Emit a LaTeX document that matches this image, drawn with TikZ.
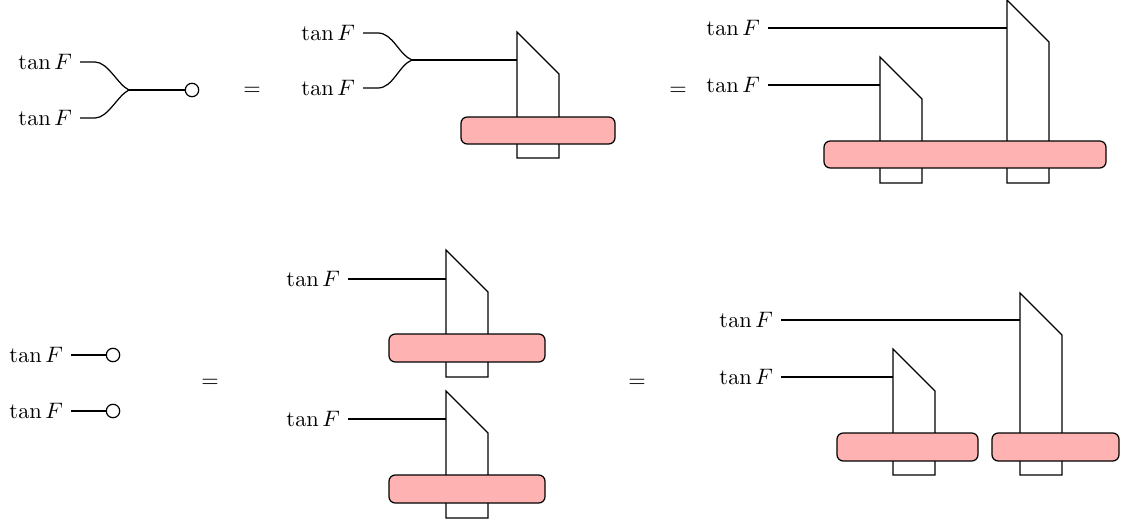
\documentclass[tikz,border=0pt]{standalone}
\begin{document}
\begin{tikzpicture}[x=0.447pt,y=-0.447pt, line width=0.55pt,
  lab/.style={anchor=east},
  cnt/.style={circle,draw,fill=white,inner sep=0pt,minimum size=6pt},
  gate/.style={draw,line join=miter},
  pinkbar/.style={draw,fill=red!30,rounded corners=2.8pt}]
\useasboundingbox (0,0) rectangle (1124,521);

% ---- top left
\node[lab] (a1) at (80,62) {$\tan F$};
\node[lab] (a2) at (80,118) {$\tan F$};
\coordinate (aj) at (129,90);
\node[cnt] (ac) at (192,90) {};
\draw (a1.east) -- ++(15,0) .. controls +(13,0) and +(-11,-5) .. (aj);
\draw (a2.east) -- ++(15,0) .. controls +(13,0) and +(-11,5) .. (aj);
\draw (aj) -- (ac);
\node (eq1) at (252,91) {$=$};

% ---- top middle
\node[lab] (b1) at (363,33) {$\tan F$};
\node[lab] (b2) at (363,88) {$\tan F$};
\coordinate (bj) at (412,60);
\coordinate (bg) at (517,60);
\draw[gate] (517,32) -- (559,74) -- (559,158) -- (517,158) -- cycle;
\draw[pinkbar] (461,117) rectangle (615,144);
\draw (b1.east) -- ++(15,0) .. controls +(15,0) and +(-13,-5) .. (bj);
\draw (b2.east) -- ++(15,0) .. controls +(15,0) and +(-13,5) .. (bj);
\draw (bj) -- (bg);
\node (eq2) at (678,91) {$=$};

% ---- top right
\node[lab] (c1) at (768,28) {$\tan F$};
\node[lab] (c2) at (768,85) {$\tan F$};
\coordinate (cg1) at (1007,28);
\coordinate (cg2) at (880,85);
\draw[gate] (1007,0) -- (1049,42) -- (1049,183) -- (1007,183) -- cycle;
\draw[gate] (880,57) -- (922,99) -- (922,183) -- (880,183) -- cycle;
\draw[pinkbar] (824,141) rectangle (1106,168);
\draw (c1.east) -- (cg1);
\draw (c2.east) -- (cg2);

% ---- bottom left
\node[lab] (d1) at (71,355) {$\tan F$};
\node[lab] (d2) at (71,411) {$\tan F$};
\node[cnt] (dc1) at (113,355) {};
\node[cnt] (dc2) at (113,411) {};
\draw (d1.east) -- (dc1);
\draw (d2.east) -- (dc2);
\node (eq3) at (210,383) {$=$};

% ---- bottom middle
\node[lab] (e1) at (348,279) {$\tan F$};
\node[lab] (e2) at (348,419) {$\tan F$};
\coordinate (eg1) at (446,279);
\coordinate (eg2) at (446,419);
\draw[gate] (446,250) -- (488,292) -- (488,377) -- (446,377) -- cycle;
\draw[pinkbar] (389,334) rectangle (545,362);
\draw[gate] (446,391) -- (488,433) -- (488,518) -- (446,518) -- cycle;
\draw[pinkbar] (389,475) rectangle (545,503);
\draw (e1.east) -- (eg1);
\draw (e2.east) -- (eg2);
\node (eq4) at (637,383) {$=$};

% ---- bottom right
\node[lab] (f1) at (781,320) {$\tan F$};
\node[lab] (f2) at (781,377) {$\tan F$};
\coordinate (fg1) at (1020,320);
\coordinate (fg2) at (893,377);
\draw[gate] (1020,293) -- (1062,335) -- (1062,475) -- (1020,475) -- cycle;
\draw[gate] (893,349) -- (935,391) -- (935,475) -- (893,475) -- cycle;
\draw[pinkbar] (837,433) rectangle (978,461);
\draw[pinkbar] (992,433) rectangle (1119,461);
\draw (f1.east) -- (fg1);
\draw (f2.east) -- (fg2);
\end{tikzpicture}
\end{document}
